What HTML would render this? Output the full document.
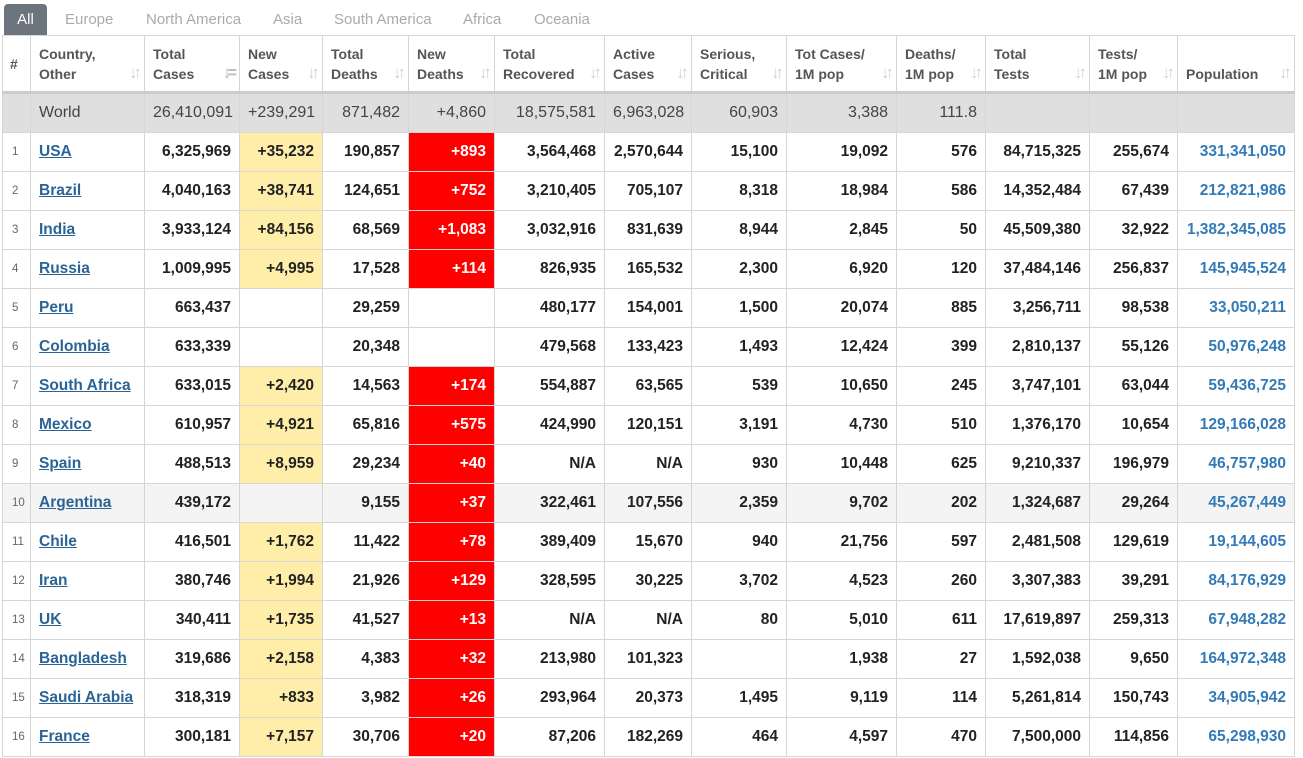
<!DOCTYPE html>
<html><head><meta charset="utf-8"><style>
body{margin:0;background:#fff;font-family:"Liberation Sans",Arial,sans-serif;width:1303px;height:758px;overflow:hidden;position:relative}
.tabs{position:absolute;top:4px;left:4px;height:31px;font-size:15px;color:#aaa}
.tab{position:absolute;top:0;height:31px;line-height:31px;white-space:nowrap}
.tab.on{background:#6c757d;color:#fff;border-radius:4px 4px 0 0;width:43px;text-align:center;left:0}
table{position:absolute;left:2px;top:35px;border-collapse:collapse;table-layout:fixed;width:1292px}
td,th{border:1px solid #d6d6d6;padding:0 8px;white-space:nowrap;overflow:hidden}
th{height:55px;text-align:left;font-size:14px;color:#555;font-weight:bold;line-height:20px;position:relative;vertical-align:middle;border-bottom:3px solid #ccc;padding-right:4px}
th .s{position:absolute;right:6px;bottom:8px;color:#d0d0d0;font-size:17px;letter-spacing:-4px;font-weight:bold}
td{height:38px;font-size:15.5px;font-weight:bold;color:#222;text-align:right}
td.n{font-size:11.5px;font-weight:normal;color:#666;text-align:left;padding:0 0 0 9px}
td.c{text-align:left}
td.c a{color:#2a6496;text-decoration:underline}
td.p{color:#337ab7}
td.y{background:#ffeeaa}
td.r{background:#ff0000;color:#fff}
tr.w td{background:#dfdfdf;font-weight:normal;color:#444;font-size:16px}
tr.g td{background:#f4f4f4}
</style></head><body>
<div class="tabs">
<div class="tab on">All</div>
<div class="tab" style="left:61px">Europe</div>
<div class="tab" style="left:142px">North America</div>
<div class="tab" style="left:269px">Asia</div>
<div class="tab" style="left:330px">South America</div>
<div class="tab" style="left:459px">Africa</div>
<div class="tab" style="left:530px">Oceania</div>
</div>
<table>
<colgroup><col style="width:28px"><col style="width:114px"><col style="width:95px"><col style="width:83px"><col style="width:86px"><col style="width:86px"><col style="width:110px"><col style="width:87px"><col style="width:95px"><col style="width:110px"><col style="width:89px"><col style="width:104px"><col style="width:88px"><col style="width:117px"></colgroup>
<tr><th style="padding:0 0 0 7px">#</th><th>Country,<br>Other<span class="s">↓↑</span></th><th>Total<br>Cases<span class="s" style="color:#bbb">↓=</span></th><th>New<br>Cases<span class="s">↓↑</span></th><th>Total<br>Deaths<span class="s">↓↑</span></th><th>New<br>Deaths<span class="s">↓↑</span></th><th>Total<br>Recovered<span class="s">↓↑</span></th><th>Active<br>Cases<span class="s">↓↑</span></th><th>Serious,<br>Critical<span class="s">↓↑</span></th><th>Tot Cases/<br>1M pop<span class="s">↓↑</span></th><th>Deaths/<br>1M pop<span class="s">↓↑</span></th><th>Total<br>Tests<span class="s">↓↑</span></th><th>Tests/<br>1M pop<span class="s">↓↑</span></th><th>&nbsp;<br>Population<span class="s">↓↑</span></th></tr>
<tr class="w"><td></td><td class="c">World</td><td>26,410,091</td><td>+239,291</td><td>871,482</td><td>+4,860</td><td>18,575,581</td><td>6,963,028</td><td>60,903</td><td>3,388</td><td>111.8</td><td></td><td></td><td></td></tr>
<tr><td class="n">1</td><td class="c"><a>USA</a></td><td>6,325,969</td><td class="y">+35,232</td><td>190,857</td><td class="r">+893</td><td>3,564,468</td><td>2,570,644</td><td>15,100</td><td>19,092</td><td>576</td><td>84,715,325</td><td>255,674</td><td class="p">331,341,050</td></tr>
<tr><td class="n">2</td><td class="c"><a>Brazil</a></td><td>4,040,163</td><td class="y">+38,741</td><td>124,651</td><td class="r">+752</td><td>3,210,405</td><td>705,107</td><td>8,318</td><td>18,984</td><td>586</td><td>14,352,484</td><td>67,439</td><td class="p">212,821,986</td></tr>
<tr><td class="n">3</td><td class="c"><a>India</a></td><td>3,933,124</td><td class="y">+84,156</td><td>68,569</td><td class="r">+1,083</td><td>3,032,916</td><td>831,639</td><td>8,944</td><td>2,845</td><td>50</td><td>45,509,380</td><td>32,922</td><td class="p">1,382,345,085</td></tr>
<tr><td class="n">4</td><td class="c"><a>Russia</a></td><td>1,009,995</td><td class="y">+4,995</td><td>17,528</td><td class="r">+114</td><td>826,935</td><td>165,532</td><td>2,300</td><td>6,920</td><td>120</td><td>37,484,146</td><td>256,837</td><td class="p">145,945,524</td></tr>
<tr><td class="n">5</td><td class="c"><a>Peru</a></td><td>663,437</td><td></td><td>29,259</td><td></td><td>480,177</td><td>154,001</td><td>1,500</td><td>20,074</td><td>885</td><td>3,256,711</td><td>98,538</td><td class="p">33,050,211</td></tr>
<tr><td class="n">6</td><td class="c"><a>Colombia</a></td><td>633,339</td><td></td><td>20,348</td><td></td><td>479,568</td><td>133,423</td><td>1,493</td><td>12,424</td><td>399</td><td>2,810,137</td><td>55,126</td><td class="p">50,976,248</td></tr>
<tr><td class="n">7</td><td class="c"><a>South Africa</a></td><td>633,015</td><td class="y">+2,420</td><td>14,563</td><td class="r">+174</td><td>554,887</td><td>63,565</td><td>539</td><td>10,650</td><td>245</td><td>3,747,101</td><td>63,044</td><td class="p">59,436,725</td></tr>
<tr><td class="n">8</td><td class="c"><a>Mexico</a></td><td>610,957</td><td class="y">+4,921</td><td>65,816</td><td class="r">+575</td><td>424,990</td><td>120,151</td><td>3,191</td><td>4,730</td><td>510</td><td>1,376,170</td><td>10,654</td><td class="p">129,166,028</td></tr>
<tr><td class="n">9</td><td class="c"><a>Spain</a></td><td>488,513</td><td class="y">+8,959</td><td>29,234</td><td class="r">+40</td><td>N/A</td><td>N/A</td><td>930</td><td>10,448</td><td>625</td><td>9,210,337</td><td>196,979</td><td class="p">46,757,980</td></tr>
<tr class="g"><td class="n">10</td><td class="c"><a>Argentina</a></td><td>439,172</td><td></td><td>9,155</td><td class="r" style="background:#f00">+37</td><td>322,461</td><td>107,556</td><td>2,359</td><td>9,702</td><td>202</td><td>1,324,687</td><td>29,264</td><td class="p">45,267,449</td></tr>
<tr><td class="n">11</td><td class="c"><a>Chile</a></td><td>416,501</td><td class="y">+1,762</td><td>11,422</td><td class="r">+78</td><td>389,409</td><td>15,670</td><td>940</td><td>21,756</td><td>597</td><td>2,481,508</td><td>129,619</td><td class="p">19,144,605</td></tr>
<tr><td class="n">12</td><td class="c"><a>Iran</a></td><td>380,746</td><td class="y">+1,994</td><td>21,926</td><td class="r">+129</td><td>328,595</td><td>30,225</td><td>3,702</td><td>4,523</td><td>260</td><td>3,307,383</td><td>39,291</td><td class="p">84,176,929</td></tr>
<tr><td class="n">13</td><td class="c"><a>UK</a></td><td>340,411</td><td class="y">+1,735</td><td>41,527</td><td class="r">+13</td><td>N/A</td><td>N/A</td><td>80</td><td>5,010</td><td>611</td><td>17,619,897</td><td>259,313</td><td class="p">67,948,282</td></tr>
<tr><td class="n">14</td><td class="c"><a>Bangladesh</a></td><td>319,686</td><td class="y">+2,158</td><td>4,383</td><td class="r">+32</td><td>213,980</td><td>101,323</td><td></td><td>1,938</td><td>27</td><td>1,592,038</td><td>9,650</td><td class="p">164,972,348</td></tr>
<tr><td class="n">15</td><td class="c"><a>Saudi Arabia</a></td><td>318,319</td><td class="y">+833</td><td>3,982</td><td class="r">+26</td><td>293,964</td><td>20,373</td><td>1,495</td><td>9,119</td><td>114</td><td>5,261,814</td><td>150,743</td><td class="p">34,905,942</td></tr>
<tr><td class="n">16</td><td class="c"><a>France</a></td><td>300,181</td><td class="y">+7,157</td><td>30,706</td><td class="r">+20</td><td>87,206</td><td>182,269</td><td>464</td><td>4,597</td><td>470</td><td>7,500,000</td><td>114,856</td><td class="p">65,298,930</td></tr>
</table>
</body></html>
